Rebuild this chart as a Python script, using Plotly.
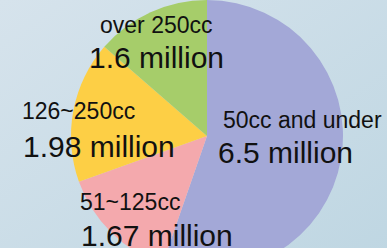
import base64
import plotly.graph_objects as go

# Data
categories = ["50cc and under", "51~125cc", "126~250cc", "over 250cc"]
values = [6.5, 1.67, 1.98, 1.6]  # million units
value_labels = ["6.5 million", "1.67 million", "1.98 million", "1.6 million"]
colors = ["#a3a8d7", "#f4a9ad", "#fdcf45", "#a6cd6a"]

W, H = 387, 272

# label placements (pixel centres of each text line, from top-left)
name_pos = [(302, 120), (130, 202), (78, 111), (156, 25)]
value_pos = [(285, 152), (157, 235), (99, 146), (156, 57)]

fig = go.Figure()

fig.add_trace(go.Pie(
    labels=categories,
    values=values,
    marker=dict(colors=colors, line=dict(width=0)),
    sort=False,
    direction="clockwise",
    rotation=0,
    textinfo="none",
    hoverinfo="label+value",
    showlegend=False,
    domain=dict(x=[71 / W, 343 / W], y=[0, 1]),
))

for i, cat in enumerate(categories):
    nx, ny = name_pos[i]
    vx, vy = value_pos[i]
    fig.add_annotation(x=nx / W, y=1 - ny / H, xref="paper", yref="paper",
                       text=cat, showarrow=False, xanchor="center", yanchor="middle",
                       font=dict(family="Liberation Sans, Arial, sans-serif", size=23, color="#111111"))
    fig.add_annotation(x=vx / W, y=1 - vy / H, xref="paper", yref="paper",
                       text=value_labels[i], showarrow=False, xanchor="center", yanchor="middle",
                       font=dict(family="Liberation Sans, Arial, sans-serif", size=30, color="#111111"))

svg = ('<svg xmlns="http://www.w3.org/2000/svg" width="387" height="272">'
       '<defs><linearGradient id="g" x1="0" y1="0" x2="1" y2="1">'
       '<stop offset="0" stop-color="#d6e3ec"/><stop offset="1" stop-color="#bed6e2"/>'
       '</linearGradient></defs><rect width="387" height="272" fill="url(#g)"/></svg>')
src = "data:image/svg+xml;base64," + base64.b64encode(svg.encode()).decode()

fig.update_layout(
    width=W, height=H,
    margin=dict(l=0, r=0, t=0, b=0),
    paper_bgcolor="#cadbe6",
    plot_bgcolor="#cadbe6",
    images=[dict(source=src, xref="paper", yref="paper", x=0, y=1, sizex=1, sizey=1,
                 sizing="stretch", layer="below", xanchor="left", yanchor="top")],
)

fig.write_html("out.html", config={"displayModeBar": False},
               post_script="document.body.style.margin='0';document.body.style.overflow='hidden';document.documentElement.style.overflow='hidden';")
